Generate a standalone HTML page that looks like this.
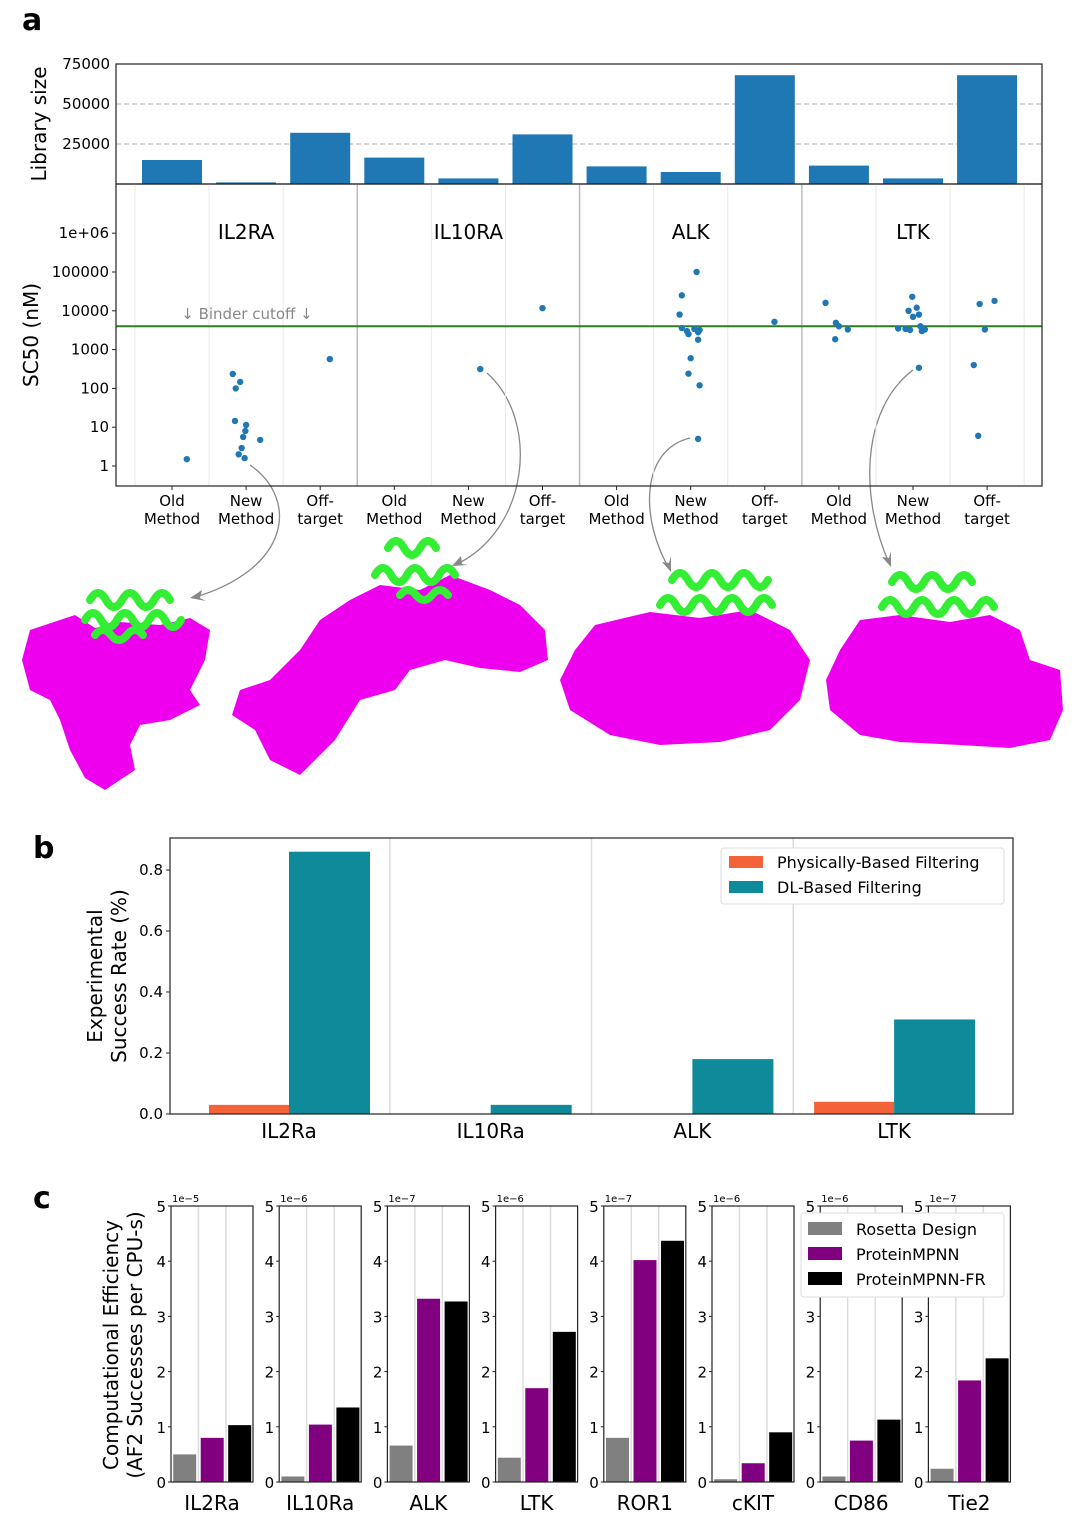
<!DOCTYPE html>
<html><head><meta charset="utf-8"><style>
html,body{margin:0;padding:0;background:#fff;}
svg{display:block;font-family:"DejaVu Sans","Liberation Sans",sans-serif;}
</style></head><body>
<svg id="fig" width="1080" height="1516" viewBox="0 0 1080 1516" xmlns="http://www.w3.org/2000/svg">
<text x="22" y="30" font-size="30" font-weight="bold">a</text>
<text x="33" y="858" font-size="30" font-weight="bold">b</text>
<text x="33" y="1208" font-size="30" font-weight="bold">c</text>
<g id="proteins">
<path fill="#ee00ee" d="M30,630 L75,615 L95,628 L120,622 L160,625 L190,618 L210,630 L205,660 L190,690 L200,705 L170,720 L140,725 L130,745 L135,770 L105,790 L85,778 L70,750 L60,720 L50,700 L30,690 L22,660 Z"/>
<path fill="#ee00ee" d="M350,600 L380,585 L420,590 L450,575 L490,590 L520,605 L545,630 L548,660 L520,672 L480,668 L445,660 L410,670 L395,690 L360,700 L335,740 L300,775 L270,760 L255,730 L232,715 L240,690 L270,680 L300,650 L320,620 Z"/>
<path fill="#ee00ee" d="M595,625 L650,612 L700,618 L750,610 L790,630 L810,660 L800,700 L770,730 L720,742 L660,745 L610,735 L570,710 L560,680 L575,650 Z"/>
<path fill="#ee00ee" d="M860,620 L900,615 L950,622 L990,615 L1020,630 L1030,660 L1060,670 L1063,710 L1050,740 L1010,748 L960,745 L900,742 L860,735 L830,710 L826,680 L840,650 Z"/>
<g fill="none" stroke="#33ee33" stroke-width="8" stroke-linecap="round">
<path d="M90,600 q8,-14 16,0 q8,14 16,0 q8,-14 16,0 q8,14 16,0 q8,-14 16,0 M85,620 q8,-14 16,0 q8,14 16,0 q8,-14 16,0 q8,14 16,0 q8,-14 16,0 q8,14 16,0 M95,635 q8,-10 16,0 q8,10 16,0 q8,-10 16,0"/>
<path d="M388,548 q8,-14 16,0 q8,14 16,0 q8,-14 16,0 M375,575 q8,-14 16,0 q8,14 16,0 q8,-14 16,0 q8,14 16,0 q8,-14 16,0 M400,595 q8,-10 16,0 q8,10 16,0 q8,-10 16,0"/>
<path d="M672,580 q8,-14 16,0 q8,14 16,0 q8,-14 16,0 q8,14 16,0 q8,-14 16,0 q8,14 16,0 M660,605 q8,-14 16,0 q8,14 16,0 q8,-14 16,0 q8,14 16,0 q8,-14 16,0 q8,14 16,0 q8,-14 16,0"/>
<path d="M892,582 q8,-14 16,0 q8,14 16,0 q8,-14 16,0 q8,14 16,0 q8,-14 16,0 M882,607 q8,-14 16,0 q8,14 16,0 q8,-14 16,0 q8,14 16,0 q8,-14 16,0 q8,14 16,0 q8,-14 16,0"/>
</g>
</g>
<g fill="none" stroke="#888" stroke-width="1.3">
<path d="M250,465 C300,500 290,570 192,598"/>
<path d="M487,373 C540,420 530,530 455,565"/>
<path d="M690,438 C640,450 640,520 670,570"/>
<path d="M913,370 C860,410 860,500 890,565"/>
</g>
<g fill="#888">
<path d="M190,598 l12,-8 l-2,8 l6,3 z"/>
<path d="M452,566 l9,-10 l1,8 l6,1 z"/>
<path d="M671,572 l-9,-10 l7,1 l2,-7 z"/>
<path d="M891,567 l-9,-10 l7,1 l2,-7 z"/>
</g>
</svg>
<script>
// ===== Panel a data =====
const aCategories = ["Old\nMethod","New\nMethod","Off-\ntarget","Old\nMethod","New\nMethod","Off-\ntarget","Old\nMethod","New\nMethod","Off-\ntarget","Old\nMethod","New\nMethod","Off-\ntarget"];
const aTargets = ["IL2RA","IL10RA","ALK","LTK"];
const librarySizes = [15000,1000,32000,16500,3500,31000,11000,7500,68000,11500,3500,68000];
const libTicks = [25000,50000,75000];
const scTicks = [1,10,100,1000,10000,100000,1000000];
const scTickLabels = ["1","10","100","1000","10000","100000","1e+06"];
const binderCutoff = 4000;
const pointCategory = [0,1,1,1,1,1,1,1,1,1,1,1,2,4,5,
 7,7,7,7,7,7,7,7,7,7,7,7,7,7,8,
 9,9,9,9,9,10,10,10,10,10,10,10,10,10,10,10,10,11,11,11,11,11];
const pointValue = [1.5,235,147,100,14.5,11.4,8,5.6,4.7,2.9,2,1.6,570,315,11700,
 100000,25000,8000,3600,3400,3200,3000,2800,2500,1800,600,240,120,5,5200,
 16000,4900,4000,3300,1850,23000,12000,10000,8000,7000,4000,3500,3400,3300,3200,3000,340,15000,18000,3300,400,6];
const pointJitter = [0.2,-0.18,-0.08,-0.14,-0.15,0.0,-0.01,-0.04,0.19,-0.06,-0.1,-0.02,0.13,0.16,0.0,
 0.08,-0.12,-0.15,-0.12,0.05,0.12,-0.05,0.1,-0.03,0.1,0.0,-0.03,0.12,0.1,0.13,
 -0.18,-0.04,0.0,0.12,-0.05,-0.01,0.05,-0.06,0.08,0.0,0.1,-0.2,-0.1,0.16,-0.04,0.12,0.08,-0.1,0.1,-0.03,-0.18,-0.12];
// ===== Panel b data =====
const bCategories = ["IL2Ra","IL10Ra","ALK","LTK"];
const physValues = [0.03,0,0,0.04];
const dlValues = [0.86,0.03,0.18,0.31];
const bTicks = [0,0.2,0.4,0.6,0.8];
// ===== Panel c data =====
const cTargets = ["IL2Ra","IL10Ra","ALK","LTK","ROR1","cKIT","CD86","Tie2"];
const cExponents = ["1e\u22125","1e\u22126","1e\u22127","1e\u22126","1e\u22127","1e\u22126","1e\u22126","1e\u22127"];
const rosettaValues = [0.5,0.1,0.66,0.44,0.8,0.05,0.1,0.24];
const mpnnValues = [0.8,1.04,3.32,1.7,4.02,0.34,0.75,1.84];
const mpnnFrValues = [1.03,1.35,3.27,2.72,4.37,0.9,1.13,2.24];
const cTicks = [0,1,2,3,4,5];

const NS="http://www.w3.org/2000/svg";
const svg=document.getElementById('fig');
function mk(tag,attrs,parent,txt){const e=document.createElementNS(NS,tag);for(const k in attrs)e.setAttribute(k,attrs[k]);if(txt!==undefined)e.textContent=txt;(parent||svg).appendChild(e);return e;}
let e;

// ---------- Panel a ----------
const aL=116,aR=1042;
const ax=c=>172+c*74.1;
const libY=v=>184-v*0.0016;
const scY=v=>466-Math.log10(v)*38.8;
const gA=mk('g',{});


libTicks.forEach((t,i)=>{
 if(t<75000){e=mk('line',{x1:aL,x2:aR,y1:libY(t),y2:libY(t),stroke:'#bbb','stroke-dasharray':'5,3','stroke-width':1.2},gA);
 
 }
 e=mk('text',{x:aL-6,y:libY(t)+5,'font-size':15,'text-anchor':'end'},gA,String(t));
 
 
});
librarySizes.forEach((v,i)=>{
 e=mk('rect',{x:ax(i)-30,y:libY(v),width:60,height:184-libY(v),fill:'#1f77b4'},gA);
 
 
});
e=mk('rect',{x:aL,y:64,width:aR-aL,height:120,fill:'none',stroke:'#222','stroke-width':1.2},gA);


e=mk('text',{transform:'translate(46,124) rotate(-90)','font-size':20,'text-anchor':'middle'},gA,'Library size');


for(let k=0;k<=12;k++){
 const x=ax(k-0.5);const dark=(k===3||k===6||k===9);
 e=mk('line',{x1:x,x2:x,y1:184,y2:486,stroke:dark?'#bbb':'#e8e8e8','stroke-width':dark?1.5:1},gA);
 
 
}
e=mk('line',{x1:aL,x2:aR,y1:scY(binderCutoff),y2:scY(binderCutoff),stroke:'#2e7d22','stroke-width':2},gA);


e=mk('text',{x:247,y:319,'font-size':15,fill:'#888','text-anchor':'middle'},gA,'\u2193 Binder cutoff \u2193');


scTicks.forEach((t,i)=>{
 e=mk('line',{x1:aL-4,x2:aL,y1:scY(t),y2:scY(t),stroke:'#222'},gA);
 
 
 e=mk('text',{x:aL-7,y:scY(t)+5,'font-size':15,'text-anchor':'end'},gA,scTickLabels[i]);
 
 
});
aTargets.forEach((t,i)=>{
 e=mk('text',{x:ax(i*3+1),y:239,'font-size':20,'text-anchor':'middle'},gA,t);
 
 
});
pointValue.forEach((v,i)=>{
 e=mk('circle',{cx:ax(pointCategory[i]+pointJitter[i]),cy:scY(v),r:3.2,fill:'#1f77b4'},gA);
 
 
});
e=mk('rect',{x:aL,y:184,width:aR-aL,height:302,fill:'none',stroke:'#222','stroke-width':1.2},gA);


aCategories.forEach((c,i)=>{
 const parts=c.split('\n');
 e=mk('line',{x1:ax(i),x2:ax(i),y1:486,y2:490,stroke:'#222'},gA);
 
 
 e=mk('text',{x:ax(i),y:506,'font-size':15,'text-anchor':'middle'},gA,parts[0]);
 
 
 e=mk('text',{x:ax(i),y:524,'font-size':15,'text-anchor':'middle'},gA,parts[1]);
 
 
});
e=mk('text',{transform:'translate(38,335) rotate(-90)','font-size':20,'text-anchor':'middle'},gA,'SC50 (nM)');



// ---------- Panel b ----------
const bL=170,bR=1013,bT=838,bB=1114;
const bx=i=>289+i*201.7;
const by=v=>bB-v*305;
const gB=mk('g',{});


for(let k=1;k<4;k++){
 e=mk('line',{x1:bx(k-0.5),x2:bx(k-0.5),y1:bT,y2:bB,stroke:'#ddd','stroke-width':1.5},gB);
 
 
}
bCategories.forEach((c,i)=>{
 e=mk('rect',{x:bx(i)-80,y:by(physValues[i]),width:80,height:bB-by(physValues[i]),fill:'#f4623a'},gB);
 
 
 e=mk('rect',{x:bx(i),y:by(dlValues[i]),width:81,height:bB-by(dlValues[i]),fill:'#0e8a9a'},gB);
 
 
 e=mk('text',{x:bx(i),y:1138,'font-size':20,'text-anchor':'middle'},gB,c);
 
 
});
bTicks.forEach(t=>{
 e=mk('line',{x1:bL-4,x2:bL,y1:by(t),y2:by(t),stroke:'#222'},gB);
 
 
 e=mk('text',{x:bL-7,y:by(t)+5,'font-size':15,'text-anchor':'end'},gB,t.toFixed(1));
 
 
});
e=mk('rect',{x:bL,y:bT,width:bR-bL,height:bB-bT,fill:'none',stroke:'#222','stroke-width':1.2},gB);


e=mk('text',{transform:'translate(102,976) rotate(-90)','font-size':20,'text-anchor':'middle'},gB,'Experimental');


e=mk('text',{transform:'translate(126,976) rotate(-90)','font-size':20,'text-anchor':'middle'},gB,'Success Rate (%)');


e=mk('rect',{x:721,y:848,width:283,height:56,fill:'#fff',stroke:'#ddd',rx:3},gB);


e=mk('rect',{x:729,y:856,width:34,height:12,fill:'#f4623a'},gB);


e=mk('text',{x:777,y:868,'font-size':16},gB,'Physically-Based Filtering');


e=mk('rect',{x:729,y:881,width:34,height:12,fill:'#0e8a9a'},gB);


e=mk('text',{x:777,y:893,'font-size':16},gB,'DL-Based Filtering');



// ---------- Panel c ----------
const cT=1206,cB=1482,cW=82;
const cy=v=>cB-v*55.2;
const gC=mk('g',{});


const colors=['#808080','#800080','#000000'];
cTargets.forEach((t,i)=>{
 const x0=171+i*108.2;
 const sx=k=>x0+13.7+k*27.5;
 for(let k=0;k<2;k++){
  e=mk('line',{x1:sx(k)+13.75,x2:sx(k)+13.75,y1:cT,y2:cB,stroke:'#ddd','stroke-width':1.5},gC);
  
  
 }
 [rosettaValues[i],mpnnValues[i],mpnnFrValues[i]].forEach((v,k)=>{
  e=mk('rect',{x:sx(k)-11.5,y:cy(v),width:23,height:cB-cy(v),fill:colors[k]},gC);
  
  
 });
 cTicks.forEach(tk=>{
  e=mk('line',{x1:x0-3,x2:x0,y1:cy(tk),y2:cy(tk),stroke:'#222'},gC);
  
  
  e=mk('text',{x:x0-5,y:cy(tk)+6,'font-size':15,'text-anchor':'end'},gC,String(tk));
  
  
 });
 e=mk('rect',{x:x0,y:cT,width:cW,height:cB-cT,fill:'none',stroke:'#222','stroke-width':1.2},gC);
 
 
 e=mk('text',{x:x0+1,y:cT-4,'font-size':10},gC,cExponents[i]);
 
 
 e=mk('text',{x:x0+cW/2,y:1510,'font-size':20,'text-anchor':'middle'},gC,t);
 
 
});
e=mk('text',{transform:'translate(118,1345) rotate(-90)','font-size':20,'text-anchor':'middle'},gC,'Computational Efficiency');


e=mk('text',{transform:'translate(142,1345) rotate(-90)','font-size':20,'text-anchor':'middle'},gC,'(AF2 Successes per CPU-s)');


e=mk('rect',{x:801,y:1213,width:203,height:84,fill:'#fff',stroke:'#ddd',rx:3},gC);


['Rosetta Design','ProteinMPNN','ProteinMPNN-FR'].forEach((n,k)=>{
 e=mk('rect',{x:808,y:1222+k*25,width:34,height:13,fill:colors[k]},gC);
 
 
 e=mk('text',{x:856,y:1235+k*25,'font-size':16},gC,n);
 
 
});
</script>
</body></html>
